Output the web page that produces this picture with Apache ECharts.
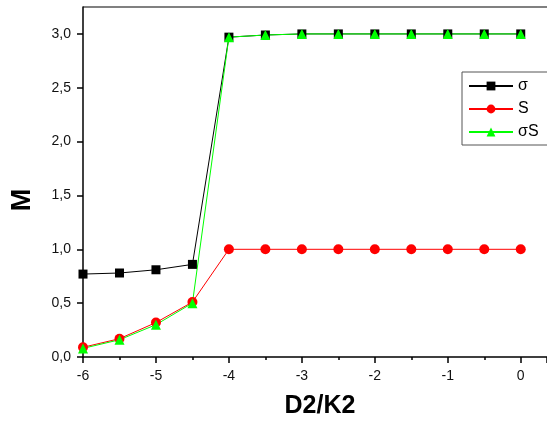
<!DOCTYPE html>
<html><head><meta charset="utf-8">
<script src="https://cdn.jsdelivr.net/npm/echarts@6/dist/echarts.min.js"></script>
<style>html,body{margin:0;padding:0;background:#fff}#c{width:547px;height:425px}</style>
</head><body><div id="c"></div>
<script>
var xValues = [-6, -5.5, -5, -4.5, -4, -3.5, -3, -2.5, -2, -1.5, -1, -0.5, 0];
var sigma = [0.77, 0.78, 0.81, 0.86, 2.97, 2.99, 3.0, 3.0, 3.0, 3.0, 3.0, 3.0, 3.0];
var S = [0.09, 0.17, 0.32, 0.51, 1.0, 1.0, 1.0, 1.0, 1.0, 1.0, 1.0, 1.0, 1.0];
var sigmaS = [0.08, 0.16, 0.30, 0.50, 2.97, 2.99, 3.0, 3.0, 3.0, 3.0, 3.0, 3.0, 3.0];
var seriesNames = ['σ', 'S', 'σS'];
var xTicks = [-6, -5, -4, -3, -2, -1, 0];
var yTicks = [0, 0.5, 1.0, 1.5, 2.0, 2.5, 3.0];
var xTitle = 'D2/K2';
var yTitle = 'M';

function pairs(ys){ return xValues.map(function(x,i){ return [x, ys[i]]; }); }
var font = 'Liberation Sans, Arial, sans-serif';
var chart = echarts.init(document.getElementById('c'));
chart.setOption({
  animation: false,
  backgroundColor: '#fff',
  grid: { left: 83, right: 0, top: 7, bottom: 68, containLabel: false,
          show: true, borderWidth: 0 },
  xAxis: {
    type: 'value', min: -6, max: 0.36, interval: 1,
    name: xTitle, nameLocation: 'middle', nameGap: 37,
    nameTextStyle: { fontFamily: font, fontWeight: 'bold', fontSize: 25, color: '#000', padding: [0, 0, 0, 10] },
    axisLine: { show: true, onZero: false, lineStyle: { color: '#000', width: 1.5 } },
    axisTick: { show: true, inside: false, length: 6, lineStyle: { color: '#000', width: 1.5 } },
    minorTick: { show: true, splitNumber: 2, length: 3, lineStyle: { color: '#000', width: 1.5 } },
    splitLine: { show: false },
    axisLabel: { fontFamily: font, fontSize: 14, color: '#111', margin: 12, showMaxLabel: false,
      formatter: function(v){ return xTicks.indexOf(v) >= 0 ? String(v) : ''; } }
  },
  yAxis: {
    type: 'value', min: 0, max: 3.25, interval: 0.5,
    axisLine: { show: true, onZero: false, lineStyle: { color: '#000', width: 1.5 } },
    axisTick: { show: true, inside: false, length: 6, lineStyle: { color: '#000', width: 1.5 } },
    splitLine: { show: false },
    axisLabel: { fontFamily: font, fontSize: 14, color: '#111', margin: 12, showMaxLabel: false,
      formatter: function(v){ return yTicks.indexOf(v) >= 0 ? v.toFixed(1).replace('.', ',') : ''; } }
  },
  legend: {
    orient: 'vertical', left: 462, top: 72,
    borderColor: '#555', borderWidth: 1, borderRadius: 0,
    padding: [6, 12, 5, 6], itemWidth: 44, itemHeight: 11, itemGap: 7,
    textStyle: { fontFamily: font, fontSize: 16, color: '#000' },
    data: seriesNames
  },
  series: [
    { name: seriesNames[0], type: 'line', data: pairs(sigma), symbol: 'rect', symbolSize: 9,
      itemStyle: { color: '#000' }, lineStyle: { color: '#000', width: 1 } },
    { name: seriesNames[1], type: 'line', data: pairs(S), symbol: 'circle', symbolSize: 10,
      itemStyle: { color: '#ff0000' }, lineStyle: { color: '#ff0000', width: 1 } },
    { name: seriesNames[2], type: 'line', data: pairs(sigmaS), symbol: 'triangle', symbolSize: 10,
      itemStyle: { color: '#00ff00' }, lineStyle: { color: '#00ff00', width: 1 } }
  ],
  graphic: [
    { type: 'line', shape: { x1: 83, y1: 7, x2: 547, y2: 7 }, style: { stroke: '#808080', lineWidth: 2 } },
    { type: 'text', x: 23, y: 200, rotation: Math.PI / 2,
      style: { text: yTitle, font: 'bold 27px ' + font, fill: '#000', align: 'center', verticalAlign: 'middle' } }
  ]
});
</script></body></html>
